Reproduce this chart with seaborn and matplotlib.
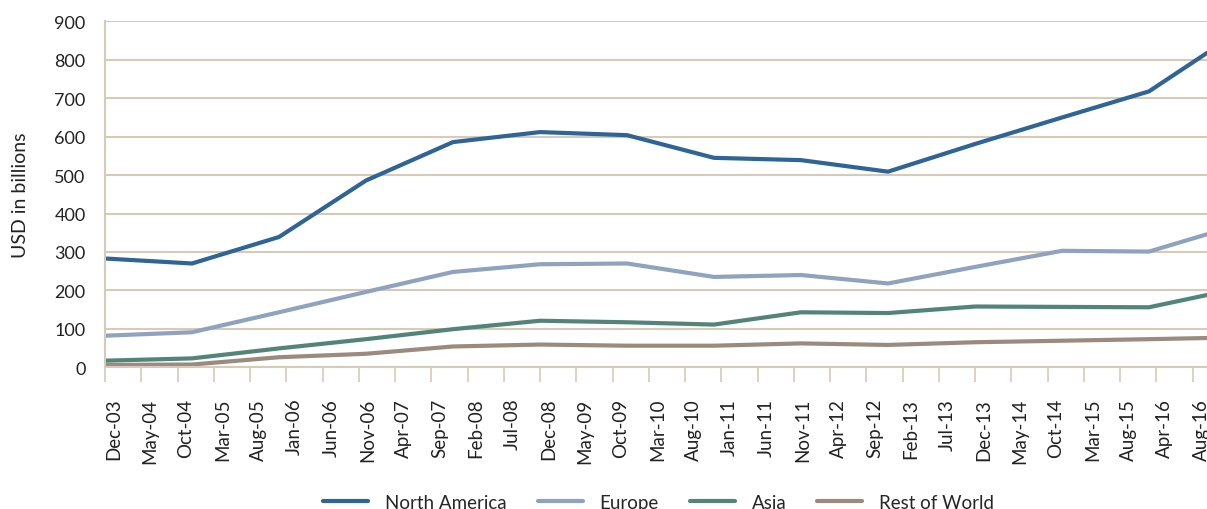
import pandas as pd
import matplotlib.pyplot as plt
import seaborn as sns

# year-end points (months after Dec-03), last one is Aug-16
points = ["Dec-03", "Dec-04", "Dec-05", "Dec-06", "Dec-07", "Dec-08", "Dec-09",
          "Dec-10", "Dec-11", "Dec-12", "Dec-13", "Dec-14", "Dec-15", "Aug-16"]
months = [0, 12, 24, 36, 48, 60, 72, 84, 96, 108, 120, 132, 144, 152]

north_america = [283, 270, 339, 486, 586, 612, 604, 545, 539, 509, 581, 650, 718, 818]
europe = [82, 91, 143, 196, 248, 268, 270, 235, 240, 218, 261, 303, 301, 346]
asia = [17, 23, 49, 73, 99, 121, 117, 111, 143, 141, 158, 157, 156, 188]
rest_of_world = [6, 7, 26, 35, 54, 59, 56, 56, 62, 58, 65, 69, 73, 76]

tick_labels = ["Dec-03", "May-04", "Oct-04", "Mar-05", "Aug-05", "Jan-06", "Jun-06",
               "Nov-06", "Apr-07", "Sep-07", "Feb-08", "Jul-08", "Dec-08", "May-09",
               "Oct-09", "Mar-10", "Aug-10", "Jan-11", "Jun-11", "Nov-11", "Apr-12",
               "Sep-12", "Feb-13", "Jul-13", "Dec-13", "May-14", "Oct-14", "Mar-15",
               "Aug-15", "Apr-16", "Aug-16"]

series = {"North America": north_america, "Europe": europe,
          "Asia": asia, "Rest of World": rest_of_world}
colors = {"North America": "#2f6496", "Europe": "#8fa3bf",
          "Asia": "#528578", "Rest of World": "#9a8b7e"}

rows = []
for name, vals in series.items():
    for m, v in zip(months, vals):
        rows.append({"Month": m, "Value": v, "Region": name})
df = pd.DataFrame(rows)

sns.set_theme(style="white")
plt.rcParams['font.family'] = ['Lato', 'DejaVu Sans']

grid_c = "#d5cbb8"
text_c = "#222222"
fig = plt.figure(figsize=(12.07, 5.10), dpi=100)
ax = fig.add_axes([0.087, 0.278, 0.913, 0.678])

sns.lineplot(data=df, x="Month", y="Value", hue="Region", palette=colors,
             linewidth=3.0, ax=ax, legend=True)
for ln in ax.lines:
    ln.set_solid_joinstyle("miter")

ax.set_xlim(0, 152)
ax.set_ylim(0, 900)
ax.set_yticks(range(0, 901, 100))
ax.set_xticks([5 * i for i in range(len(tick_labels))])
ax.set_xticklabels(tick_labels, rotation=90, ha="left")
ax.yaxis.grid(True, color=grid_c, linewidth=1.5)
ax.set_axisbelow(True)
for s in ["top", "right"]:
    ax.spines[s].set_visible(False)
for s in ["left", "bottom"]:
    ax.spines[s].set_color(grid_c)
    ax.spines[s].set_linewidth(1.5)
ax.tick_params(axis="x", direction="out", length=11, width=1.2, color=grid_c,
               pad=11, labelsize=13.5, labelcolor=text_c, bottom=True)
ax.tick_params(axis="y", length=0, pad=14, labelsize=13, labelcolor=text_c)
ax.set_xlabel("")
ax.set_ylabel("USD in billions", fontsize=14, color=text_c)
ax.yaxis.set_label_coords(-0.069, 0.5)

handles, labels = ax.get_legend_handles_labels()
ax.get_legend().remove()
for h in handles:
    h.set_solid_capstyle("round")
fig.legend(handles, labels, loc="center", ncol=4, frameon=False, fontsize=13.5,
           bbox_to_anchor=(0.5456, 0.013), handlelength=2.4, columnspacing=1.65,
           handletextpad=0.9)

fig.savefig("out.png", dpi=100)
